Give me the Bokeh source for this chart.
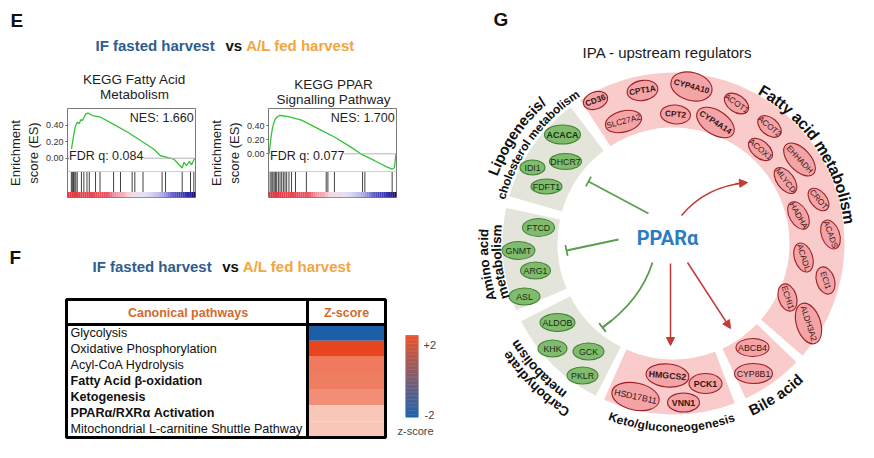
import numpy as np
from bokeh.plotting import figure
from bokeh.models import (Range1d, FixedTicker, NumeralTickFormatter, Label, Span,
                          Arrow, NormalHead, TeeHead, ColumnDataSource)
from bokeh.layouts import row, column
from bokeh.core.properties import value
from bokeh.transform import linear_cmap
from bokeh.embed import file_html
from bokeh.resources import INLINE

FONT = "Liberation Sans"

# ------------------------------------------------------------------ data
TITLE_A = "IF fasted harvest"
TITLE_VS = "vs"
TITLE_B = "A/L fed harvest"

GSEA1_TITLE = ["KEGG Fatty Acid", "Metabolism"]
GSEA1_NES = "NES: 1.660"
GSEA1_FDR = "FDR q: 0.084"
GSEA1_RANK = [0, 1.3, 3.0, 4.5, 6.0, 7.0, 7.8, 9.0, 10.5, 11.7, 13.0, 14.3, 16.0, 19.5,
              26.0, 36.4, 46.8, 57.1, 67.5, 72.7, 83.0, 89.6, 91.0, 93.0, 95.0, 97.0, 98.7, 100]
GSEA1_ES = [0.0, -0.01, 0.10, 0.25, 0.38, 0.42, 0.44, 0.42, 0.47, 0.46, 0.50, 0.54, 0.55, 0.52,
            0.50, 0.41, 0.32, 0.215, 0.11, 0.03, -0.01, -0.12, -0.05, -0.09, -0.04, -0.08, -0.02, 0.0]
GSEA1_HITS = [3.0, 3.8, 4.7, 5.7, 6.5, 7.6, 10.9, 12.8, 15.2, 17.0, 21.9, 25.4, 36.0, 41.4,
              50.5, 52.6, 59.0, 73.9, 76.6, 89.6, 96.1, 98.7]

GSEA2_TITLE = ["KEGG PPAR", "Signalling Pathway"]
GSEA2_NES = "NES: 1.700"
GSEA2_FDR = "FDR q: 0.077"
GSEA2_RANK = [0, 0.5, 2.0, 3.0, 4.0, 5.2, 6.4, 9.0, 12.0, 15.5, 25.8, 38.7, 51.5, 64.4,
              72.0, 82.5, 92.8, 96.6, 98.3, 99.0, 99.5]
GSEA2_ES = [0.0, 0.0, 0.24, 0.36, 0.43, 0.49, 0.52, 0.55, 0.54, 0.53, 0.48, 0.36, 0.24, 0.095,
            0.0, -0.095, -0.19, -0.22, -0.20, -0.10, 0.0]
GSEA2_HITS = [1.3, 2.6, 3.4, 4.4, 5.4, 6.4, 7.7, 9.0, 10.3, 11.6, 12.9, 14.2, 16.0, 18.0,
              21.1, 29.6, 45.1, 46.4, 51.5, 73.5, 75.3, 96.6]
ES_TICKS = [0.0, 0.2, 0.4]

TABLE_HEAD = ["Canonical pathways", "Z-score"]
PATHWAYS = ["Glycolysis", "Oxidative Phosphorylation", "Acyl-CoA Hydrolysis",
            "Fatty Acid β-oxidation", "Ketogenesis", "PPARα/RXRα Activation",
            "Mitochondrial L-carnitine Shuttle Pathway"]
PATHWAY_BOLD = [False, False, False, True, True, True, False]
Z_SCORES = [-2.1, 2.0, 1.35, 1.3, 1.1, 0.42, 0.42]
Z_LIMITS = [-2, 2]
Z_LABELS = ["+2", "-2", "z-score"]

G_TITLE = "IPA - upstream regulators"
REGULATOR = "PPARα"
LABEL_FA = ["Fatty acid metabolism"]
LABEL_LIPO = ["Lipogenesis/", "cholesterol metabolism"]
LABEL_AMINO = ["Amino acid", "metabolism"]
LABEL_CARB = ["Carbohydrate", "metabolism"]
LABEL_KETO = ["Keto/gluconeogenesis"]
LABEL_BILE = ["Bile acid"]
GENES_FA = ["CD36", "CPT1A", "CYP4A10", "ACOT1", "SLC27A2", "CPT2", "CYP4A14", "ACOT2",
            "ACOX1", "EHHADH", "MLYCD", "CROT", "HADHA", "ACADS", "ACADL", "ECI1",
            "ECHI1", "ALDH3A2"]
GENES_LIPO = ["ACACA", "DHCR7", "IDI1", "FDFT1"]
GENES_AMINO = ["FTCD", "GNMT", "ARG1", "ASL"]
GENES_CARB = ["ALDOB", "KHK", "GCK", "PKLR"]
GENES_KETO = ["HMGCS2", "PCK1", "HSD17B11", "VNN1"]
GENES_BILE = ["ABCB4", "CYP8B1"]
GENES_BOLD = {"CD36", "CPT1A", "CYP4A10", "CPT2", "CYP4A14", "ACACA", "HMGCS2", "PCK1", "VNN1"}

# ------------------------------------------------------------------ styles / layout
BLUE_T = "#2d5d8e"
ORANGE_T = "#f3a540"
HEAD_C = "#d46a2e"
RED = "#c43a36"
GREEN = "#5a9e4e"
PINK_RING = "#f9cbcb"
GRAY_RING = "#e3e5da"
PINK_ELL = "#f2a4a7"
PINK_EDGE = "#9e1f25"
GREEN_ELL = "#7fbd6c"
GREEN_EDGE = "#457f3a"

W_REG = {' ': 278, 'a': 556, 'b': 556, 'c': 500, 'd': 556, 'e': 556, 'f': 278, 'g': 556,
         'h': 556, 'i': 222, 'l': 222, 'm': 833, 'n': 556, 'o': 556, 'p': 556, 'r': 333,
         's': 500, 't': 278, 'u': 556, 'y': 500, '/': 278, 'A': 667, 'B': 667, 'C': 722,
         'F': 611, 'K': 667, 'L': 556}
W_BOLD = {' ': 278, 'a': 556, 'b': 611, 'c': 556, 'd': 611, 'e': 556, 'f': 333, 'g': 611,
          'h': 611, 'i': 278, 'l': 278, 'm': 889, 'n': 611, 'o': 611, 'p': 611, 'r': 389,
          's': 556, 't': 333, 'u': 611, 'y': 556, '/': 278, 'A': 722, 'B': 722, 'C': 722,
          'F': 611, 'K': 722, 'L': 611}


def hex2rgb(h):
    h = h.lstrip('#')
    return np.array([int(h[i:i + 2], 16) for i in (0, 2, 4)], dtype=float)


def ramp(stops, n):
    pos = np.array([s[0] for s in stops])
    cols = np.array([hex2rgb(s[1]) for s in stops])
    out = []
    for t in np.linspace(0, 1, n):
        rgb = [np.interp(t, pos, cols[:, k]) for k in range(3)]
        out.append("#%02x%02x%02x" % tuple(int(round(v)) for v in rgb))
    return out


TABLE_PAL = ramp([(0, "#1a5fa8"), (0.5, "#fde9e1"), (1, "#e8451e")], 256)
BAR_PAL = ramp([(0, "#1d63ad"), (1, "#e8542c")], 256)
GSEA_BAR = ramp([(0, "#e2343f"), (0.3, "#e8545e"), (0.37, "#f08a9a"), (0.48, "#f5d0dc"),
                 (0.58, "#e6e2f2"), (0.7, "#c6c4ea"), (0.78, "#8c8ad8"), (0.86, "#4c48bc"),
                 (0.96, "#2c28a6"), (1.0, "#0c0a58")], 60)


def put_text(p, xs, ys, texts, size, color="#222222", bold=False, align="center",
             baseline="middle", angles=None, font=FONT):
    n = len(texts)
    src = ColumnDataSource(dict(x=list(xs), y=list(ys), t=list(texts),
                                a=list(angles) if angles is not None else [0.0] * n))
    p.text(x="x", y="y", text="t", angle="a", source=src, text_font=value(font),
           text_font_size=value(f"{size}px"), text_font_style="bold" if bold else "normal",
           text_color=color, text_align=align, text_baseline=baseline)


def blank_fig(w, h, x0, x1, y0, y1):
    p = figure(width=w, height=h, x_range=Range1d(x0, x1), y_range=Range1d(y0, y1),
               x_axis_location=None, y_axis_location=None, toolbar_location=None,
               output_backend="svg", min_border=0)
    p.outline_line_color = None
    p.xgrid.visible = False
    p.ygrid.visible = False
    p.background_fill_color = "white"
    p.border_fill_color = "white"
    return p


# ------------------------------------------------------------------ panel E header
pE = blank_fig(450, 107, 0, 450, 107, 0)
put_text(pE, [10], [20], ["E"], 19, color="#111111", bold=True, align="left")


def comparison_title(p, y, xa, xv, xb):
    put_text(p, [xa], [y], [TITLE_A], 15, color=BLUE_T, bold=True, align="left")
    put_text(p, [xv], [y], [TITLE_VS], 15, color="#111111", bold=True, align="left")
    put_text(p, [xb], [y], [TITLE_B], 15, color=ORANGE_T, bold=True, align="left")


comparison_title(pE, 45, 95, 225, 245.7)
put_text(pE, [134, 134], [79, 94], GSEA1_TITLE, 13.5, color="#1e1e1e")
put_text(pE, [333, 333], [83.5, 98.5], GSEA2_TITLE, 13.5, color="#1e1e1e")


# ------------------------------------------------------------------ GSEA panels
def gsea_panel(width, b_left, b_right, rank, es, hits, ylo, yhi, nes, fdr):
    p = figure(width=width, height=98, x_range=Range1d(0, 100), y_range=Range1d(ylo, yhi),
               min_border_left=b_left, min_border_right=b_right, min_border_top=1,
               min_border_bottom=8, x_axis_location=None, toolbar_location=None,
               output_backend="svg")
    p.xgrid.visible = False
    p.ygrid.visible = False
    p.outline_line_color = "#7a7a7a"
    p.outline_line_width = 1
    ax = p.yaxis[0]
    ax.ticker = FixedTicker(ticks=ES_TICKS)
    ax.formatter = NumeralTickFormatter(format="0.00")
    ax.major_label_text_font = FONT
    ax.major_label_text_font_size = "9px"
    ax.major_label_text_color = "#333333"
    ax.major_label_standoff = 2
    ax.major_tick_out = 2
    ax.major_tick_in = 0
    ax.minor_tick_out = 0
    ax.minor_tick_in = 0
    ax.major_tick_line_color = "#666666"
    ax.axis_line_color = None
    ax.axis_label = "Enrichment\nscore (ES)"
    ax.axis_label_text_font = FONT
    ax.axis_label_text_font_size = "13px"
    ax.axis_label_text_font_style = "normal"
    ax.axis_label_text_color = "#1e1e1e"
    ax.axis_label_standoff = 2

    def sy(px):  # screen row (108..197) -> data value inside this frame
        return yhi - (px - 108) / 89.0 * (yhi - ylo)

    hit_top, bar_top = sy(171), sy(191.5)
    p.add_layout(Span(location=0, dimension="width", line_color="#b4b4b4", line_width=1))
    p.add_layout(Span(location=hit_top, dimension="width", line_color="#d0d0d0", line_width=1))
    p.segment(x0=hits, y0=[bar_top] * len(hits), x1=hits, y1=[hit_top] * len(hits),
              line_color="#2e2e2e", line_width=1, line_alpha=0.9)
    edges = np.linspace(0, 100, len(GSEA_BAR) + 1)
    p.quad(left=edges[:-1], right=edges[1:], bottom=ylo, top=bar_top, fill_color=GSEA_BAR,
           line_color=None)
    p.line(rank, es, line_color="#34c334", line_width=1.3)
    p.add_layout(Label(x=98.6, y=sy(117), text=nes, text_align="right", text_baseline="middle",
                       text_font=FONT, text_font_size="12.5px", text_color="#1e1e1e"))
    p.add_layout(Label(x=1.2, y=sy(155.5), text=fdr, text_align="left", text_baseline="middle",
                       text_font=FONT, text_font_size="12.5px", text_color="#1e1e1e",
                       background_fill_color="white"))
    return p


g1 = gsea_panel(205, 67, 10, GSEA1_RANK, GSEA1_ES, GSEA1_HITS, -0.479, 0.606, GSEA1_NES, GSEA1_FDR)
g2 = gsea_panel(245, 62, 54, GSEA2_RANK, GSEA2_ES, GSEA2_HITS, -0.624, 0.647, GSEA2_NES, GSEA2_FDR)

# ------------------------------------------------------------------ panel F
pF = blank_fig(450, 237, 0, 450, 442, 205)
put_text(pF, [9], [257], ["F"], 19, color="#111111", bold=True, align="left")
comparison_title(pF, 266, 92, 221.7, 242.3)

TX0, TX1, TDIV, TY0, THEAD, TY1 = 66, 385, 307, 299, 324, 437
nrow = len(PATHWAYS)
rh = (TY1 - THEAD) / nrow
tops = [THEAD + i * rh for i in range(nrow)]
cell_src = ColumnDataSource(dict(top=tops, bottom=[t + rh for t in tops], z=Z_SCORES))
pF.quad(left=TDIV + 1, right=TX1 - 1, top="top", bottom="bottom", source=cell_src,
        fill_color=linear_cmap("z", TABLE_PAL, Z_LIMITS[0], Z_LIMITS[1]), line_color=None)
pF.quad(left=[TX0], right=[TX1], top=[TY0], bottom=[TY1], fill_color=None,
        line_color="black", line_width=3)
pF.segment(x0=[TX0, TDIV], y0=[THEAD, TY0], x1=[TX1, TDIV], y1=[THEAD, TY1],
           line_color="black", line_width=3)
put_text(pF, [187.5, 346], [312.5, 312.5], TABLE_HEAD, 12.5, color=HEAD_C, bold=True)
for i, (name, b) in enumerate(zip(PATHWAYS, PATHWAY_BOLD)):
    put_text(pF, [70], [tops[i] + rh / 2], [name], 12.6, color="#111111", bold=b, align="left")

# colour legend
bar_v = np.linspace(Z_LIMITS[0], Z_LIMITS[1], 60)
CB_TOP, CB_BOT = 335, 417
step = (CB_BOT - CB_TOP) / len(bar_v)
bar_bottom = CB_BOT - (bar_v - Z_LIMITS[0]) / (Z_LIMITS[1] - Z_LIMITS[0]) * (CB_BOT - CB_TOP - step)
bar_src = ColumnDataSource(dict(v=bar_v, bottom=bar_bottom, top=bar_bottom - step - 0.4))
pF.quad(left=405, right=418, top="top", bottom="bottom", source=bar_src,
        fill_color=linear_cmap("v", BAR_PAL, Z_LIMITS[0], Z_LIMITS[1]), line_color=None)
put_text(pF, [423, 424], [344, 414], Z_LABELS[:2], 11, color="#444444", align="left")
put_text(pF, [415], [430], Z_LABELS[2:], 11, color="#444444")

# ------------------------------------------------------------------ panel G
pG = blank_fig(408, 442, 450, 858, -442, 0)
CX, CY = 673.0, -243.0
R_IN, R_OUT = 116, 171

put_text(pG, [493], [-19], ["G"], 19, color="#111111", bold=True, align="left")
put_text(pG, [667], [-52], [G_TITLE], 15, color="#1a1a1a")

SEG_GEOM = [  # (start deg, end deg, colour)
    (-41, 123, PINK_RING), (127, 164, GRAY_RING), (168, 203, GRAY_RING),
    (207, 243, GRAY_RING), (246, 291, PINK_RING), (295, 316, PINK_RING)]
for a0, a1, col in SEG_GEOM:
    pG.annular_wedge(x=[CX], y=[CY], inner_radius=R_IN, outer_radius=R_OUT,
                     start_angle=np.radians(a0), end_angle=np.radians(a1),
                     fill_color=col, line_color=None)

GENE_POS = {  # screen x, screen y, width, height, angle
    "CD36": (595, 100, 25, 17, 20), "CPT1A": (642, 90, 31, 20, 10),
    "CYP4A10": (691, 86, 42, 28, -15), "ACOT1": (736, 103, 27, 17, -35),
    "SLC27A2": (623, 121, 37, 21, 15), "CPT2": (675, 114, 30, 19, -5),
    "CYP4A14": (715, 122, 42, 24, -33), "ACOT2": (769, 126, 27, 17, -40),
    "ACOX1": (760, 149, 28, 17, -40), "EHHADH": (799, 159, 40, 22, -47),
    "MLYCD": (785, 180, 30, 17, -53), "CROT": (818, 199, 26, 16, -50),
    "HADHA": (798, 215, 30, 18, -60), "ACADS": (830, 234, 30, 18, -70),
    "ACADL": (803, 257, 30, 18, -72), "ECI1": (825, 280, 28, 18, -72),
    "ECHI1": (787, 297, 28, 18, -72), "ALDH3A2": (808, 323, 42, 24, -72),
    "ACACA": (562, 134, 36, 19, 0), "DHCR7": (565, 161, 32, 16, 0),
    "IDI1": (532, 167, 25, 15, 0), "FDFT1": (546, 186, 31, 15, 0),
    "FTCD": (538, 227, 32, 18, 0), "GNMT": (518, 250, 33, 18, 0),
    "ARG1": (535, 270, 30, 17, 0), "ASL": (524, 296, 31, 17, 0),
    "ALDOB": (557, 322, 35, 18, 0), "KHK": (552, 348, 29, 17, 0),
    "GCK": (588, 351, 31, 17, 0), "PKLR": (582, 375, 31, 17, 0),
    "HMGCS2": (667, 375, 43, 23, -5), "PCK1": (705, 383, 33, 20, 0),
    "HSD17B11": (635, 396, 48, 27, -12), "VNN1": (683, 402, 32, 19, 0),
    "ABCB4": (752, 347, 33, 18, 0), "CYP8B1": (753, 373, 38, 20, 0),
}


def draw_genes(genes, fill, edge, tcol, size):
    xs = [GENE_POS[g][0] for g in genes]
    ys = [-GENE_POS[g][1] for g in genes]
    ws = [GENE_POS[g][2] for g in genes]
    hs = [GENE_POS[g][3] for g in genes]
    ang = [np.radians(GENE_POS[g][4]) for g in genes]
    pG.ellipse(x=xs, y=ys, width=ws, height=hs, angle=ang, fill_color=fill,
               line_color=edge, line_width=1.1)
    for bold in (False, True):
        sel = [i for i, g in enumerate(genes) if (g in GENES_BOLD) == bold]
        if sel:
            put_text(pG, [xs[i] for i in sel], [ys[i] for i in sel], [genes[i] for i in sel],
                     size, color=tcol, bold=bold, angles=[ang[i] for i in sel])


draw_genes(GENES_FA, PINK_ELL, PINK_EDGE, "#3a1214", 8.2)
draw_genes(GENES_KETO + GENES_BILE, PINK_ELL, PINK_EDGE, "#3a1214", 8.8)
draw_genes(GENES_LIPO + GENES_AMINO + GENES_CARB, GREEN_ELL, GREEN_EDGE, "#1b2a18", 8.8)


def arc_text(s, phi_c, r, size, outward, bold=True, color="#111111"):
    W = W_BOLD if bold else W_REG
    w = np.array([W.get(c, 556) for c in s]) * size / 1000.0
    offs = np.cumsum(w) - w / 2 - w.sum() / 2
    d = np.degrees(offs / r)
    phi = phi_c - d if outward else phi_c + d
    ang = phi - 90 if outward else phi + 90
    xs = CX + r * np.cos(np.radians(phi))
    ys = CY + r * np.sin(np.radians(phi))
    keep = [i for i, c in enumerate(s) if c != " "]
    put_text(pG, xs[keep], ys[keep], [s[i] for i in keep], size, color=color, bold=bold,
             angles=np.radians(ang[keep]))


arc_text(LABEL_FA[0], 33.5, 177, 16, True)
arc_text(LABEL_LIPO[0], 145.7, 194, 15, True)
arc_text(LABEL_LIPO[1], 143.9, 178, 12, True)
arc_text(LABEL_AMINO[0], 186.5, 190, 13.5, True)
arc_text(LABEL_AMINO[1], 186.0, 177, 13.5, True)
arc_text(LABEL_CARB[0], 225.6, 200, 13.5, True)
arc_text(LABEL_CARB[1], 223.0, 187, 13.5, True)
arc_text(LABEL_KETO[0], 269.4, 184, 12, False)
arc_text(LABEL_BILE[0], -56.0, 184, 15, False)

put_text(pG, [667], [-237], [REGULATOR], 20, color="#2b7cc3", bold=True, font="Roboto")

# activation (red) and inhibition (green) edges
pG.quadratic(x0=[681], y0=[-215], x1=[746], y1=[-182], cx=[705], cy=[-186],
             line_color=RED, line_width=1.5)
pG.add_layout(Arrow(end=NormalHead(size=8, fill_color=RED, line_color=RED),
                    x_start=735, y_start=-183.2, x_end=747, y_end=-182,
                    line_color=RED, line_width=1.5))
for (xs_, ys_, xe, ye) in [(670, 263, 670, 345), (687, 262, 730, 328)]:
    pG.add_layout(Arrow(end=NormalHead(size=8, fill_color=RED, line_color=RED),
                        x_start=xs_, y_start=-ys_, x_end=xe, y_end=-ye,
                        line_color=RED, line_width=1.5))
for (xs_, ys_, xe, ye) in [(648, 213, 588, 181), (618, 239, 566, 250)]:
    pG.add_layout(Arrow(end=TeeHead(size=11, line_color=GREEN, line_width=1.8),
                        x_start=xs_, y_start=-ys_, x_end=xe, y_end=-ye,
                        line_color=GREEN, line_width=1.8))
pG.quadratic(x0=[652], y0=[-262], x1=[602], y1=[-327], cx=[640], cy=[-300],
             line_color=GREEN, line_width=1.8)
pG.add_layout(Arrow(end=TeeHead(size=11, line_color=GREEN, line_width=1.8),
                    x_start=611, y_start=-320, x_end=602, y_end=-327,
                    line_color=GREEN, line_width=1.8))

layout = row(column(pE, row(g1, g2, spacing=0), pF, spacing=0), pG, spacing=0)
open("out.html", "w").write(file_html(layout, INLINE))
